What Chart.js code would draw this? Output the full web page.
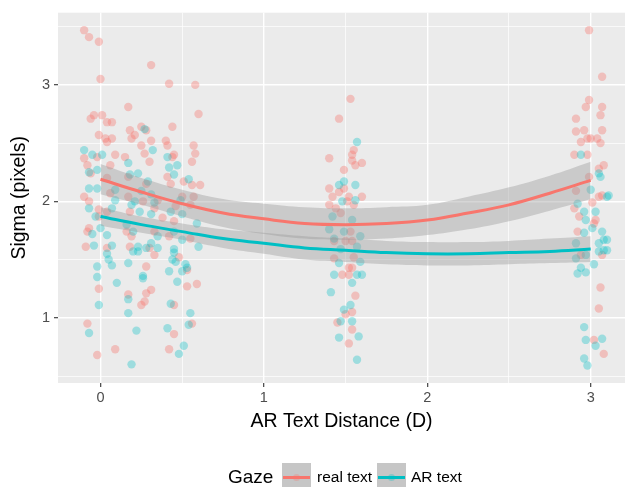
<!DOCTYPE html>
<html>
<head>
<meta charset="utf-8">
<script src="https://cdn.jsdelivr.net/npm/chart.js@4.4.1/dist/chart.umd.min.js"></script>
<style>
  body { margin: 0; background: #fff; }
  canvas { display: block; }
</style>
</head>
<body>
<canvas id="chart" width="631" height="487"></canvas>
<script>
// jittered observations, [distance, sigma]
const realTextPts = [
    [-0.10,3.47],[-0.07,3.41],[-0.01,3.37],[0.00,3.05],[0.31,3.17],[0.42,3.01],[0.58,3.00],[0.60,2.75],
    [0.17,2.81],[-0.06,2.71],[-0.04,2.74],[0.01,2.74],[0.04,2.68],[0.07,2.68],[-0.01,2.57],[0.03,2.54],
    [0.07,2.54],[0.04,2.51],[0.18,2.61],[0.21,2.57],[0.19,2.54],[0.25,2.64],[0.28,2.61],[0.44,2.64],
    [0.31,2.52],[0.40,2.52],[0.41,2.48],[0.25,2.48],[0.57,2.48],[0.58,2.41],[0.45,2.40],[0.27,2.41],
    [0.09,2.40],[-0.10,2.37],[0.15,2.38],[-0.02,2.38],[-0.08,2.31],[-0.06,2.24],[0.06,2.31],[0.56,2.34],
    [0.30,2.34],[0.44,2.38],[0.41,2.21],[0.17,2.21],[0.51,2.17],[0.61,2.14],[0.56,2.14],[0.43,2.15],
    [0.28,2.15],[0.04,2.20],[-0.10,2.04],[-0.07,2.00],[0.06,2.07],[0.17,2.04],[0.26,2.00],[0.35,2.01],
    [0.50,2.04],[0.57,2.04],[0.46,1.96],[0.55,1.97],[0.33,1.94],[-0.01,1.93],[0.04,1.91],[0.18,1.91],
    [0.38,1.86],[-0.01,1.87],[0.45,1.83],[-0.07,1.77],[-0.08,1.74],[0.16,1.74],[0.19,1.70],[0.33,1.74],
    [0.42,1.70],[0.55,1.68],[-0.09,1.61],[0.04,1.60],[0.18,1.61],[0.30,1.60],[0.33,1.54],[0.48,1.52],
    [0.28,1.44],[0.53,1.41],[0.53,1.27],[0.59,1.29],[-0.01,1.25],[0.31,1.24],[0.28,1.21],[0.17,1.20],
    [0.27,1.14],[0.25,1.11],[0.45,1.11],[-0.08,0.95],[0.56,0.95],[0.45,0.86],[0.09,0.73],[0.42,0.73],
    [-0.02,0.68],
    [1.53,2.88],[1.46,2.71],[1.40,2.37],[1.49,2.27],[1.55,2.44],[1.54,2.40],[1.54,2.35],[1.60,2.33],
    [1.56,2.31],[1.40,2.11],[1.42,2.04],[1.49,2.11],[1.46,2.08],[1.52,2.04],[1.60,2.04],[1.51,2.00],
    [1.40,1.97],[1.44,1.94],[1.47,1.90],[1.55,1.97],[1.43,1.66],[1.53,1.74],[1.50,1.66],[1.54,1.66],
    [1.43,1.51],[1.52,1.43],[1.54,1.43],[1.48,1.37],[1.52,1.37],[1.56,1.19],[1.54,1.05],[1.50,1.03],
    [1.45,0.96],[1.54,0.90],[1.52,0.78],[1.55,1.52],
    [2.99,3.47],[3.07,3.07],[2.99,2.87],[2.97,2.81],[3.07,2.81],[3.06,2.74],[2.91,2.71],[2.91,2.60],
    [2.96,2.61],[3.07,2.61],[2.94,2.51],[2.98,2.54],[3.00,2.54],[3.04,2.54],[3.06,2.50],[2.90,2.40],
    [2.98,2.40],[3.08,2.31],[3.05,2.28],[2.99,2.21],[2.91,2.09],[3.07,2.05],[3.05,2.04],[3.01,1.99],
    [2.90,1.94],[2.93,1.87],[3.03,1.84],[3.02,1.81],[2.92,1.74],[3.07,1.54],[2.94,1.54],[3.06,1.26],
    [3.05,1.08],[3.02,0.81],[3.08,0.69]
];

const arTextPts = [
    [-0.10,2.44],[-0.05,2.40],[0.01,2.40],[-0.02,2.27],[-0.07,2.25],[-0.07,2.11],[-0.02,2.11],[0.09,2.10],
    [0.09,2.01],[0.07,1.94],[-0.07,1.94],[-0.03,1.87],[0.00,1.77],[-0.05,1.72],[0.04,1.71],[-0.04,1.62],
    [0.07,1.62],[0.04,1.55],[0.05,1.50],[0.07,1.45],[-0.02,1.44],[-0.02,1.35],[0.10,1.30],[-0.01,1.11],
    [-0.07,0.87],[0.17,2.33],[0.18,2.23],[0.23,2.24],[0.29,2.17],[0.32,2.44],[0.27,2.62],[0.41,2.38],
    [0.42,2.29],[0.47,2.31],[0.45,2.23],[0.54,2.19],[0.25,2.09],[0.19,1.97],[0.21,2.00],[0.31,2.06],
    [0.33,1.99],[0.49,2.01],[0.43,1.91],[0.50,1.89],[0.24,1.91],[0.31,1.89],[0.16,1.80],[0.20,1.74],
    [0.45,1.74],[0.59,1.81],[0.35,1.70],[0.50,1.67],[0.60,1.61],[0.23,1.61],[0.28,1.60],[0.31,1.64],
    [0.35,1.60],[0.23,1.57],[0.20,1.57],[0.45,1.59],[0.45,1.56],[0.44,1.50],[0.46,1.48],[0.52,1.46],
    [0.53,1.43],[0.50,1.40],[0.42,1.40],[0.17,1.47],[0.47,1.31],[0.26,1.36],[0.26,1.34],[0.17,1.16],
    [0.43,1.12],[0.17,1.04],[0.55,1.04],[0.54,0.94],[0.22,0.89],[0.41,0.91],[0.51,0.76],[0.48,0.69],
    [0.19,0.60],
    [1.57,2.51],[1.49,2.17],[1.46,2.14],[1.56,2.14],[1.48,2.00],[1.56,2.01],[1.42,1.87],[1.54,1.84],
    [1.40,1.76],[1.49,1.74],[1.59,1.70],[1.43,1.68],[1.57,1.61],[1.47,1.59],[1.59,1.48],[1.46,1.47],
    [1.43,1.37],[1.60,1.37],[1.57,1.37],[1.54,1.30],[1.41,1.22],[1.53,1.11],[1.49,1.07],[1.54,0.97],
    [1.47,0.97],[1.46,0.83],[1.58,0.84],[1.57,0.64],
    [2.94,2.40],[3.05,2.24],[3.06,2.21],[3.00,2.10],[3.10,2.04],[3.11,2.05],[2.92,1.98],[2.96,1.91],
    [3.03,1.91],[2.97,1.84],[3.01,1.77],[2.96,1.73],[3.07,1.74],[3.08,1.67],[3.10,1.67],[3.05,1.64],
    [2.91,1.64],[3.10,1.58],[3.05,1.57],[3.08,1.58],[2.97,1.54],[2.91,1.51],[2.94,1.43],[3.02,1.46],
    [2.97,1.39],[2.92,1.38],[2.96,0.92],[2.97,0.81],[3.07,0.82],[3.03,0.76],[2.96,0.65],[2.98,0.59]
];

// smoothed fits and their confidence bands, read at these distances
const fitX    = [0, 0.25, 0.5, 0.75, 1, 1.25, 1.5, 1.75, 2, 2.25, 2.5, 2.75, 3];
const realFit = [2.19, 2.08, 1.98, 1.90, 1.85, 1.81, 1.80, 1.81, 1.84, 1.90, 1.97, 2.07, 2.18];
const realLo  = [2.06, 1.97, 1.87, 1.78, 1.72, 1.68, 1.67, 1.68, 1.71, 1.76, 1.83, 1.92, 2.02];
const realHi  = [2.32, 2.20, 2.10, 2.02, 1.98, 1.95, 1.94, 1.95, 1.97, 2.04, 2.12, 2.22, 2.34];
const arFit   = [1.87, 1.80, 1.74, 1.68, 1.64, 1.60, 1.58, 1.56, 1.55, 1.55, 1.56, 1.57, 1.59];
const arLo    = [1.79, 1.73, 1.67, 1.60, 1.55, 1.50, 1.48, 1.46, 1.45, 1.45, 1.46, 1.47, 1.48];
const arHi    = [1.95, 1.87, 1.81, 1.76, 1.73, 1.70, 1.68, 1.66, 1.65, 1.65, 1.66, 1.68, 1.70];

const xGrid = [0, 0.5, 1, 1.5, 2, 2.5, 3];
const yGrid = [0.5, 1, 1.5, 2, 2.5, 3, 3.5];

const RED = '#F8766D';
const TEAL = '#00BFC4';
const FONT = '"Liberation Sans", Arial, Helvetica, sans-serif';

const pts = arr => arr.map(p => ({ x: p[0], y: p[1] }));
const curve = vals => fitX.map((x, i) => ({ x: x, y: vals[i] }));

function isMajor(ctx) {
    return ctx.tick && Number.isInteger(ctx.tick.value);
}

const panelBg = {
    id: 'panelBg',
    beforeDraw(chart) {
        const { ctx, chartArea: a } = chart;
        ctx.save();
        ctx.fillStyle = '#EBEBEB';
        ctx.fillRect(a.left, a.top, a.right - a.left, a.bottom - a.top);
        ctx.restore();
    }
};

const gazeLegend = {
    id: 'gazeLegend',
    afterDraw(chart) {
        const ctx = chart.ctx;
        ctx.save();
        ctx.textBaseline = 'middle';
        ctx.fillStyle = '#000';
        ctx.font = '19px ' + FONT;
        ctx.fillText('Gaze', 228, 478);

        const keys = [
            { x: 281, color: RED, label: 'real text', tx: 317 },
            { x: 376, color: TEAL, label: 'AR text', tx: 411 }
        ];
        keys.forEach(k => {
            ctx.fillStyle = '#C6C6C6';
            ctx.fillRect(k.x, 462, 31, 31);
            ctx.strokeStyle = '#FFFFFF';
            ctx.lineWidth = 1;
            ctx.strokeRect(k.x + 0.5, 462.5, 30, 30);
            ctx.strokeStyle = k.color;
            ctx.lineWidth = 3;
            ctx.beginPath();
            ctx.moveTo(k.x + 2, 477.5);
            ctx.lineTo(k.x + 29, 477.5);
            ctx.stroke();
            ctx.globalAlpha = 0.3;
            ctx.fillStyle = k.color;
            ctx.beginPath();
            ctx.arc(k.x + 15.5, 477.5, 3.5, 0, Math.PI * 2);
            ctx.fill();
            ctx.globalAlpha = 1;
            ctx.fillStyle = '#000';
            ctx.font = '15.5px ' + FONT;
            ctx.fillText(k.label, k.tx, 478);
        });
        ctx.restore();
    }
};

const lineDefaults = {
    type: 'line',
    pointRadius: 0,
    tension: 0.4,
    fill: false
};

new Chart(document.getElementById('chart'), {
    type: 'scatter',
    data: {
        datasets: [
            {
                label: 'real text',
                data: pts(realTextPts),
                backgroundColor: 'rgba(248, 118, 109, 0.37)',
                borderWidth: 0,
                pointRadius: 4.2,
                order: 10
            },
            {
                label: 'AR text',
                data: pts(arTextPts),
                backgroundColor: 'rgba(0, 191, 196, 0.33)',
                borderWidth: 0,
                pointRadius: 4.2,
                order: 9
            },
            Object.assign({}, lineDefaults, {
                data: curve(realLo), borderWidth: 0, borderColor: 'rgba(0,0,0,0)', order: 8
            }),
            Object.assign({}, lineDefaults, {
                data: curve(realHi), borderWidth: 0, borderColor: 'rgba(0,0,0,0)',
                fill: '-1', backgroundColor: 'rgba(153, 153, 153, 0.4)', order: 7
            }),
            Object.assign({}, lineDefaults, {
                data: curve(realFit), borderColor: RED, borderWidth: 3, order: 6
            }),
            Object.assign({}, lineDefaults, {
                data: curve(arLo), borderWidth: 0, borderColor: 'rgba(0,0,0,0)', order: 5
            }),
            Object.assign({}, lineDefaults, {
                data: curve(arHi), borderWidth: 0, borderColor: 'rgba(0,0,0,0)',
                fill: '-1', backgroundColor: 'rgba(153, 153, 153, 0.4)', order: 4
            }),
            Object.assign({}, lineDefaults, {
                data: curve(arFit), borderColor: TEAL, borderWidth: 3, order: 3
            })
        ]
    },
    options: {
        responsive: false,
        animation: false,
        layout: { padding: { left: 0, right: 6, top: 9, bottom: 44 } },
        plugins: {
            legend: { display: false },
            tooltip: { enabled: false }
        },
        scales: {
            x: {
                type: 'linear',
                min: -0.26,
                max: 3.21,
                afterFit: s => { s.height = 60; },
                afterBuildTicks: s => { s.ticks = xGrid.map(v => ({ value: v })); },
                border: { display: false },
                grid: {
                    color: '#FFFFFF',
                    lineWidth: c => isMajor(c) ? 1.4 : 0.7,
                    drawTicks: true,
                    tickLength: 4,
                    tickWidth: 1.1,
                    tickColor: c => isMajor(c) ? '#333333' : 'rgba(0,0,0,0)'
                },
                ticks: {
                    autoSkip: false,
                    maxRotation: 0,
                    padding: 2,
                    color: '#4D4D4D',
                    font: { family: FONT, size: 14.5 },
                    callback: v => Number.isInteger(v) ? String(v) : ''
                },
                title: {
                    display: true,
                    text: 'AR Text Distance (D)',
                    color: '#000',
                    font: { family: FONT, size: 19.5 },
                    padding: { top: 0, bottom: 10 }
                }
            },
            y: {
                type: 'linear',
                min: 0.44,
                max: 3.62,
                afterFit: s => { s.width = 58; },
                afterBuildTicks: s => { s.ticks = yGrid.map(v => ({ value: v })); },
                border: { display: false },
                grid: {
                    color: '#FFFFFF',
                    lineWidth: c => isMajor(c) ? 1.4 : 0.7,
                    drawTicks: true,
                    tickLength: 4,
                    tickWidth: 1.1,
                    tickColor: c => isMajor(c) ? '#333333' : 'rgba(0,0,0,0)'
                },
                ticks: {
                    padding: 4,
                    color: '#4D4D4D',
                    font: { family: FONT, size: 14.5 },
                    callback: v => Number.isInteger(v) ? String(v) : ''
                },
                title: {
                    display: true,
                    text: 'Sigma (pixels)',
                    color: '#000',
                    font: { family: FONT, size: 19.5 },
                    padding: { top: 8, bottom: 0 }
                }
            }
        }
    },
    plugins: [panelBg, gazeLegend]
});
</script>
</body>
</html>
